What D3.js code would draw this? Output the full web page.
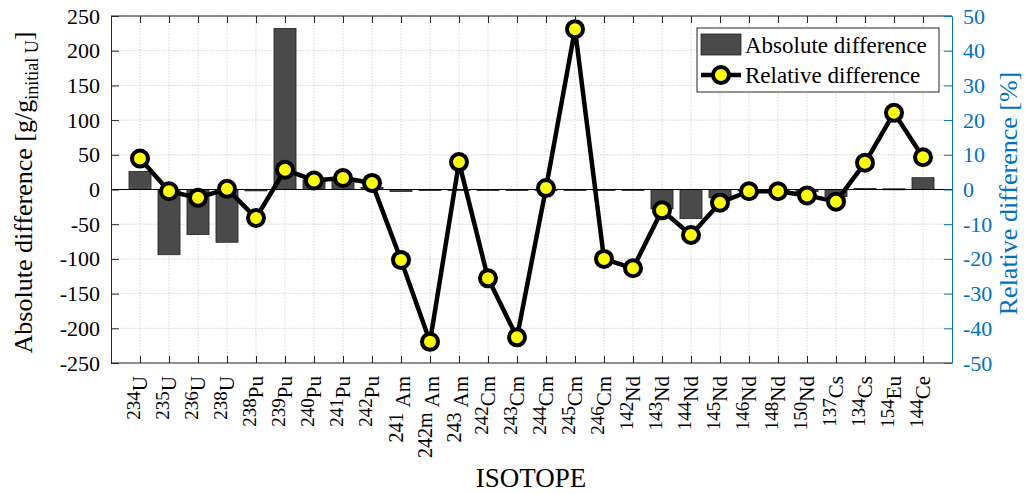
<!DOCTYPE html>
<html>
<head>
<meta charset="utf-8">
<script src="https://cdn.jsdelivr.net/npm/d3@7"></script>
<style>
  html, body { margin: 0; padding: 0; background: #fff; }
  svg, svg text { font-family: "Liberation Serif", "Times New Roman", "DejaVu Serif", serif !important; }
</style>
</head>
<body>
<svg id="chart" width="1035" height="494"></svg>
<script>
// Isotopes: mass number and element symbol
const massNumbers = ["234","235","236","238","238","239","240","241","242","241","242m","243","242","243","244","245","246","142","143","144","145","146","148","150","137","134","154","144"];
const elements    = ["U","U","U","U","Pu","Pu","Pu","Pu","Pu","Am","Am","Am","Cm","Cm","Cm","Cm","Cm","Nd","Nd","Nd","Nd","Nd","Nd","Nd","Cs","Cs","Eu","Ce"];

// Absolute difference [g/g initial U] (bars, left axis)
const absoluteDiff = [26, -94, -65, -76, -2, 232, 14, 12, 3, -3, -1, -1, -1, 0, 0, 0, 0, -1, -28, -42, -12, -2, -2, -3, -10, 1.5, 1, 17];
// Relative difference [%] (line with markers, right axis)
const relativeDiff = [8.9, -0.5, -2.4, 0.2, -8.2, 5.7, 2.6, 3.3, 1.9, -20.3, -43.9, 7.9, -25.6, -42.6, 0.4, 46.2, -20.0, -22.7, -6.0, -13.1, -3.8, -0.5, -0.5, -1.7, -3.5, 7.7, 22.1, 9.3];

const leftTicks  = [-250, -200, -150, -100, -50, 0, 50, 100, 150, 200, 250];
const rightTicks = [-50, -40, -30, -20, -10, 0, 10, 20, 30, 40, 50];

const svg = d3.select("#chart");
const plot = { left: 111, right: 952, top: 16, bottom: 363 };
const blue = "#0072BD";
const fmt = d => String(d);  // plain hyphen for negatives

const x = d3.scaleLinear().domain([0, elements.length + 1]).range([plot.left, plot.right]);
const yL = d3.scaleLinear().domain([-250, 250]).range([plot.bottom, plot.top]);
const yR = d3.scaleLinear().domain([-50, 50]).range([plot.bottom, plot.top]);
const idx = d3.range(elements.length);
const step = x(1) - x(0);

// grid
const grid = svg.append("g").attr("stroke", "#d4d4d4").attr("stroke-width", 1).attr("stroke-dasharray", "1.5,1.5");
idx.forEach(i => grid.append("line").attr("x1", x(i + 1)).attr("x2", x(i + 1)).attr("y1", plot.top).attr("y2", plot.bottom));
leftTicks.forEach(v => grid.append("line").attr("x1", plot.left).attr("x2", plot.right).attr("y1", yL(v)).attr("y2", yL(v)));

// bars
const bw = step * 0.76;
svg.append("g").selectAll("rect").data(idx).join("rect")
  .attr("x", i => x(i + 1) - bw / 2)
  .attr("width", bw)
  .attr("y", i => Math.min(yL(absoluteDiff[i]), yL(0)))
  .attr("height", i => Math.max(Math.abs(yL(absoluteDiff[i]) - yL(0)), 1))
  .attr("fill", "#4a4a4a").attr("stroke", "#222").attr("stroke-width", 0.8);

// baseline
svg.append("line").attr("x1", plot.left).attr("x2", plot.right)
  .attr("y1", yL(0)).attr("y2", yL(0)).attr("stroke", "#000").attr("stroke-width", 1);

// relative difference line
const line = d3.line().x(i => x(i + 1)).y(i => yR(relativeDiff[i]));
svg.append("path").datum(idx).attr("d", line)
  .attr("fill", "none").attr("stroke", "#000").attr("stroke-width", 4.5).attr("stroke-linejoin", "round");
svg.append("g").selectAll("circle").data(idx).join("circle")
  .attr("cx", i => x(i + 1)).attr("cy", i => yR(relativeDiff[i])).attr("r", 8)
  .attr("fill", "#ffff00").attr("stroke", "#000").attr("stroke-width", 4);

// axes frame
svg.append("line").attr("x1", plot.left).attr("x2", plot.right).attr("y1", plot.top).attr("y2", plot.top).attr("stroke", "#262626");
svg.append("line").attr("x1", plot.left).attr("x2", plot.right).attr("y1", plot.bottom).attr("y2", plot.bottom).attr("stroke", "#262626");

// left axis
const axL = svg.append("g").attr("transform", `translate(${plot.left},0)`)
  .call(d3.axisLeft(yL).tickValues(leftTicks).tickSizeInner(-8).tickSizeOuter(0).tickPadding(11).tickFormat(fmt));
axL.attr("font-family", null).attr("font-size", 22);
axL.select(".domain").attr("stroke", "#262626");
axL.selectAll(".tick line").attr("stroke", "#262626");
axL.selectAll("text").attr("fill", "#000");

// right axis
const axR = svg.append("g").attr("transform", `translate(${plot.right},0)`)
  .call(d3.axisRight(yR).tickValues(rightTicks).tickSizeInner(-8).tickSizeOuter(0).tickPadding(11).tickFormat(fmt));
axR.attr("font-family", null).attr("font-size", 22);
axR.select(".domain").attr("stroke", blue);
axR.selectAll(".tick line").attr("stroke", blue);
axR.selectAll("text").attr("fill", blue);

// bottom and top category ticks
const axB = svg.append("g").attr("transform", `translate(0,${plot.bottom})`)
  .call(d3.axisBottom(x).tickValues(idx.map(i => i + 1)).tickSizeInner(-7).tickSizeOuter(0).tickFormat(""));
axB.select(".domain").remove();
axB.selectAll(".tick line").attr("stroke", "#262626");
const axT = svg.append("g").attr("transform", `translate(0,${plot.top})`)
  .call(d3.axisTop(x).tickValues(idx.map(i => i + 1)).tickSizeInner(-7).tickSizeOuter(0).tickFormat(""));
axT.select(".domain").remove();
axT.selectAll(".tick line").attr("stroke", "#262626");

// isotope labels, rotated, mass number raised as a superscript
const lab = svg.append("g").attr("fill", "#000");
idx.forEach(i => {
  const isAm = elements[i] === "Am";
  const cx = x(i + 1) + (isAm ? 9 : 7);
  const t = lab.append("text").attr("transform", `translate(${cx},376) rotate(-90)`).attr("text-anchor", "end");
  t.append("tspan").attr("font-size", isAm ? 20 : 19).attr("dy", -7).text(massNumbers[i] + (isAm ? "\u00a0" : ""));
  t.append("tspan").attr("font-size", 21).attr("dy", 7).text(elements[i]);
});

// axis titles
const yt = svg.append("text").attr("transform", `translate(32,${(plot.top + plot.bottom) / 2 + 3}) rotate(-90)`)
  .attr("text-anchor", "middle").attr("font-size", 26).attr("fill", "#000");
yt.append("tspan").text("Absolute difference [g/g");
yt.append("tspan").attr("font-size", 18).attr("dy", 6).text("initial U");
yt.append("tspan").attr("dy", -6).text("]");

svg.append("text").attr("transform", `translate(1017,${(plot.top + plot.bottom) / 2 + 4}) rotate(-90)`)
  .attr("text-anchor", "middle").attr("font-size", 26).attr("fill", blue).text("Relative difference [%]");

svg.append("text").attr("x", 531).attr("y", 487).attr("text-anchor", "middle")
  .attr("font-size", 27).attr("fill", "#000").text("ISOTOPE");

// legend
const lg = svg.append("g");
lg.append("rect").attr("x", 697).attr("y", 28).attr("width", 242).attr("height", 64)
  .attr("fill", "#fff").attr("stroke", "#262626").attr("stroke-width", 1);
lg.append("rect").attr("x", 701).attr("y", 34).attr("width", 40).attr("height", 21)
  .attr("fill", "#4a4a4a").attr("stroke", "#222").attr("stroke-width", 0.8);
lg.append("text").attr("x", 745).attr("y", 53).attr("font-size", 23).text("Absolute difference");
lg.append("line").attr("x1", 701).attr("x2", 741).attr("y1", 75).attr("y2", 75).attr("stroke", "#000").attr("stroke-width", 4.5);
lg.append("circle").attr("cx", 721).attr("cy", 75).attr("r", 8).attr("fill", "#ffff00").attr("stroke", "#000").attr("stroke-width", 4);
lg.append("text").attr("x", 745).attr("y", 83).attr("font-size", 23).text("Relative difference");
</script>
</body>
</html>
